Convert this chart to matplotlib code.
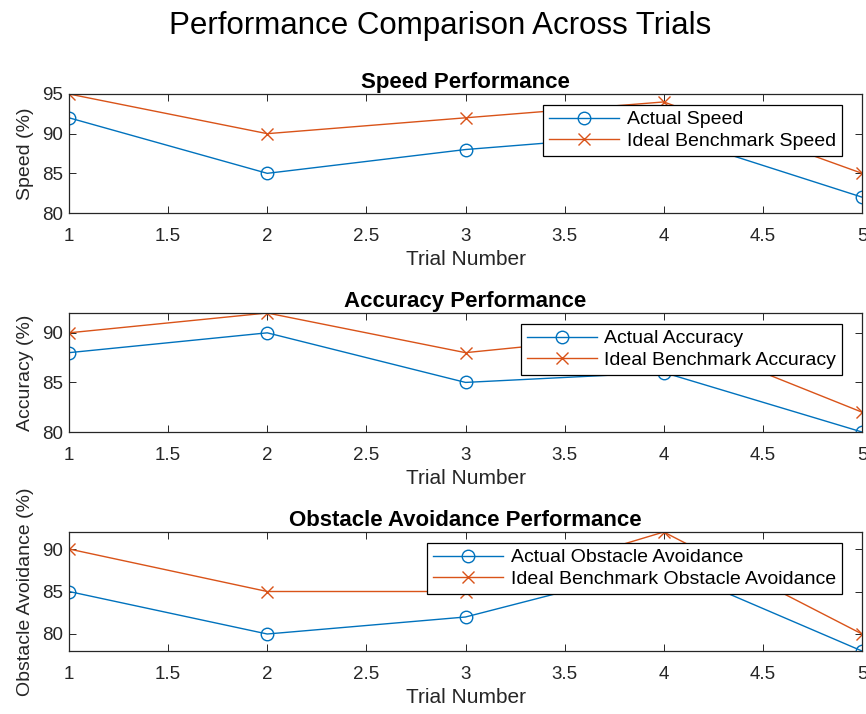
import matplotlib
matplotlib.use("Agg")
import matplotlib.pyplot as plt

trials = [1, 2, 3, 4, 5]
speed_actual = [92, 85, 88, 90, 82]
speed_ideal = [95, 90, 92, 94, 85]
acc_actual = [88, 90, 85, 86, 80]
acc_ideal = [90, 92, 88, 90, 82]
obs_actual = [85, 80, 82, 88, 78]
obs_ideal = [90, 85, 85, 92, 80]

xticks = [1, 1.5, 2, 2.5, 3, 3.5, 4, 4.5, 5]
xticklabels = ["1", "1.5", "2", "2.5", "3", "3.5", "4", "4.5", "5"]

plt.rcParams['font.family'] = ['Liberation Sans', 'DejaVu Sans']

blue = (0, 0.447, 0.741)
orange = (0.85, 0.325, 0.098)
tickc = (0.15, 0.15, 0.15)

W, H = 866, 714
fig = plt.figure(figsize=(W / 100, H / 100), dpi=100)
fig.text(0.508, 1 - 26 / H, "Performance Comparison Across Trials", ha='center', va='center',
         fontsize=22.5, color='black')

panels = [
    ("Speed Performance", "Speed (%)", speed_actual, speed_ideal,
     "Actual Speed", "Ideal Benchmark Speed", (80, 95), [80, 85, 90, 95], 94),
    ("Accuracy Performance", "Accuracy (%)", acc_actual, acc_ideal,
     "Actual Accuracy", "Ideal Benchmark Accuracy", (80, 92), [80, 85, 90], 313),
    ("Obstacle Avoidance Performance", "Obstacle Avoidance (%)", obs_actual, obs_ideal,
     "Actual Obstacle Avoidance", "Ideal Benchmark Obstacle Avoidance", (78, 92), [80, 85, 90], 532),
]

left_px, right_px, h_px = 69, 862, 119
for title, ylabel, act, ideal, la, li, ylim, yt, top_px in panels:
    ax = fig.add_axes([left_px / W, 1 - (top_px + h_px) / H, (right_px - left_px) / W, h_px / H])
    ax.plot(trials, act, '-o', color=blue, mfc='none', ms=9, mew=1.0, lw=1.0, label=la)
    ax.plot(trials, ideal, '-x', color=orange, ms=9, mew=1.0, lw=1.0, label=li)
    ax.set_xlim(1, 5)
    ax.set_ylim(*ylim)
    ax.set_xticks(xticks)
    ax.set_xticklabels(xticklabels)
    ax.set_yticks(yt)
    ax.tick_params(direction='in', top=True, right=True, labelsize=13.5, colors=tickc,
                   length=5, width=0.7)
    ax.tick_params(axis='x', pad=10.5)
    ax.tick_params(axis='y', pad=4)
    for s in ax.spines.values():
        s.set_linewidth(0.9)
        s.set_color(tickc)
    ax.set_title(title, fontsize=16, fontweight='bold', pad=4.5)
    ax.set_xlabel("Trial Number", fontsize=15, color=tickc, labelpad=4)
    ax.set_ylabel(ylabel, fontsize=14, color=tickc, labelpad=6)
    leg = ax.legend(loc='upper right', bbox_to_anchor=((842 - left_px) / (right_px - left_px), 1 - 11 / h_px),
                    fontsize=14, frameon=True, fancybox=False,
                    edgecolor='black', framealpha=1, borderpad=0.3, handlelength=3.6,
                    handletextpad=0.4, labelspacing=0.2, borderaxespad=0)
    leg.get_frame().set_linewidth(0.9)

fig.savefig("out.png", dpi=100)
